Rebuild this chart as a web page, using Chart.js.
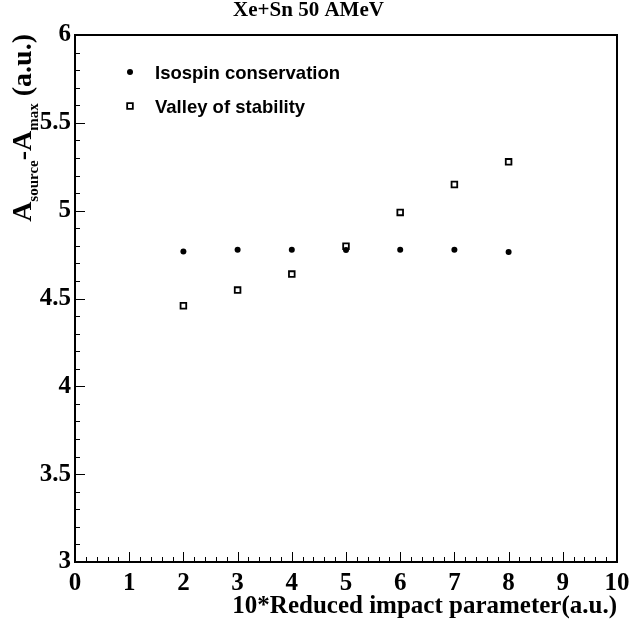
<!DOCTYPE html>
<html>
<head>
<meta charset="utf-8">
<script src="https://cdn.jsdelivr.net/npm/chart.js@4.4.1/dist/chart.umd.min.js"></script>
<style>
  html, body { margin: 0; padding: 0; background: #fff; }
  #wrap { width: 630px; height: 626px; }
</style>
</head>
<body>
<div id="wrap"><canvas id="chart" width="630" height="626"></canvas></div>
<script>
// data
var impactParam = [2, 3, 4, 5, 6, 7, 8];
var isospinValues = [4.767, 4.778, 4.778, 4.776, 4.778, 4.778, 4.765];
var valleyValues = [4.459, 4.548, 4.639, 4.798, 4.990, 5.149, 5.278];
var seriesLabels = ["Isospin conservation", "Valley of stability"];
var xTickValues = [0, 1, 2, 3, 4, 5, 6, 7, 8, 9, 10];
var yTickValues = [3, 3.5, 4, 4.5, 5, 5.5, 6];

var SERIF = "'Liberation Serif', 'Times New Roman', serif";
var SANS = "'Liberation Sans', Arial, sans-serif";

function toPoints(xs, ys) {
  return xs.map(function (x, i) { return { x: x, y: ys[i] }; });
}

/**
 * frame, inner ticks, y title with subscripts, legend
 */
var rootStylePlugin = {
  id: "rootStyle",
  afterDraw: function (chart) {
    var ctx = chart.ctx;
    var area = chart.chartArea;
    var xs = chart.scales.x, ys = chart.scales.y;

    ctx.save();
    ctx.strokeStyle = "#000";

    // ticks inside the frame
    ctx.lineWidth = 1;
    ctx.beginPath();
    for (var i = 0; i <= 50; i++) {
      var v = i * 0.2;
      var px = Math.round(xs.getPixelForValue(v)) + 0.5;
      var len = (i % 5 == 0) ? 10 : 5;
      ctx.moveTo(px, area.bottom);
      ctx.lineTo(px, area.bottom - len);
    }
    for (var j = 0; j <= 30; j++) {
      var yv = 3 + j * 0.1;
      var py = Math.round(ys.getPixelForValue(yv)) + 0.5;
      var ylen = (j % 5 == 0) ? 10 : 5;
      ctx.moveTo(area.left, py);
      ctx.lineTo(area.left + ylen, py);
    }
    ctx.stroke();

    // frame
    ctx.lineWidth = 2;
    ctx.strokeRect(area.left, area.top, area.right - area.left, area.bottom - area.top);

    // y axis title: A_source-A_max (a.u.)
    var parts = [
      { t: "A", f: "bold 28px " + SERIF, dy: 0 },
      { t: "source", f: "bold 15px " + SERIF, dy: 7 },
      { t: "-A", f: "bold 28px " + SERIF, dy: 0 },
      { t: "max", f: "bold 15px " + SERIF, dy: 7 },
      { t: " (a.u.)", f: "bold 28px " + SERIF, dy: 0 }
    ];
    var total = 0;
    parts.forEach(function (p) { ctx.font = p.f; p.w = ctx.measureText(p.t).width; total += p.w; });
    ctx.fillStyle = "#000";
    ctx.textBaseline = "alphabetic";
    ctx.textAlign = "left";
    ctx.translate(31, 34 + total);
    ctx.rotate(-Math.PI / 2);
    var cx = 0;
    parts.forEach(function (p) {
      ctx.font = p.f;
      ctx.fillText(p.t, cx, p.dy);
      cx += p.w;
    });
    ctx.restore();

    // legend
    ctx.save();
    var legendY = [72, 106];
    chart.data.datasets.forEach(function (ds, k) {
      ctx.fillStyle = ds.backgroundColor;
      ctx.strokeStyle = ds.borderColor;
      ctx.lineWidth = ds.borderWidth;
      Chart.helpers.drawPoint(ctx, {
        pointStyle: ds.pointStyle,
        radius: ds.pointRadius,
        rotation: 0,
        borderWidth: ds.borderWidth
      }, 130, legendY[k]);
      ctx.fillStyle = "#000";
      ctx.font = "bold 18.5px " + SANS;
      ctx.textAlign = "left";
      ctx.textBaseline = "middle";
      ctx.fillText(ds.label, 155, legendY[k] + 2);
    });
    ctx.restore();
  }
};

var chart = new Chart(document.getElementById("chart"), {
  type: "scatter",
  data: {
    datasets: [
      {
        label: seriesLabels[0],
        data: toPoints(impactParam, isospinValues),
        pointStyle: "circle",
        pointRadius: 3,
        backgroundColor: "#000",
        borderColor: "#000",
        borderWidth: 0
      },
      {
        label: seriesLabels[1],
        data: toPoints(impactParam, valleyValues),
        pointStyle: "rect",
        pointRadius: 4,
        backgroundColor: "#fff",
        borderColor: "#000",
        borderWidth: 1.8
      }
    ]
  },
  options: {
    responsive: false,
    animation: false,
    events: [],
    layout: { padding: { left: 0, right: 13, top: 0, bottom: 0 } },
    plugins: {
      legend: { display: false },
      tooltip: { enabled: false },
      title: {
        display: true,
        text: "Xe+Sn 50 AMeV",
        color: "#000",
        font: { family: SERIF, size: 21, weight: "bold", lineHeight: 1.0 },
        padding: { top: 0, bottom: 14 }
      }
    },
    scales: {
      x: {
        type: "linear",
        min: 0,
        max: 10,
        afterBuildTicks: function (scale) {
          scale.ticks = xTickValues.map(function (v) { return { value: v }; });
        },
        afterFit: function (scale) {
          scale.height = 64;
          scale.paddingLeft = 0;
          scale.paddingRight = 0;
        },
        grid: { display: false, drawTicks: false },
        border: { display: false },
        ticks: {
          color: "#000",
          padding: 7,
          maxRotation: 0,
          autoSkip: false,
          font: { family: SERIF, size: 25, weight: "bold" }
        },
        title: {
          display: true,
          text: "10*Reduced impact parameter(a.u.)",
          align: "end",
          color: "#000",
          font: { family: SERIF, size: 25, weight: "bold", lineHeight: 1.2 },
          padding: { top: 0, bottom: 4 }
        }
      },
      y: {
        type: "linear",
        min: 3,
        max: 6,
        afterBuildTicks: function (scale) {
          scale.ticks = yTickValues.map(function (v) { return { value: v }; });
        },
        afterFit: function (scale) { scale.width = 75; },
        grid: { display: false, drawTicks: false },
        border: { display: false },
        ticks: {
          color: "#000",
          padding: 4,
          autoSkip: false,
          font: { family: SERIF, size: 25, weight: "bold" },
          callback: function (v) { return String(v); }
        }
      }
    }
  },
  plugins: [rootStylePlugin]
});
</script>
</body>
</html>
